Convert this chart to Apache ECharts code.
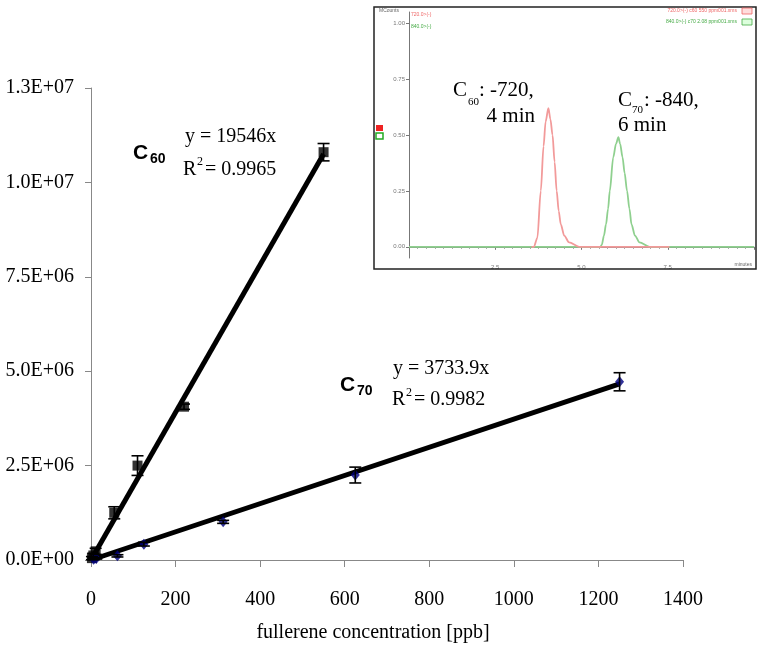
<!DOCTYPE html>
<html>
<head>
<meta charset="utf-8">
<script src="https://cdn.jsdelivr.net/npm/echarts@6/dist/echarts.min.js"></script>
<style>html,body{margin:0;padding:0;background:#fff}#c{width:762px;height:650px}</style>
</head>
<body>
<div id="c"></div>
<script>
// ---- main calibration data ----
var c60Conc = [2.2, 5.5, 11, 55, 110, 220, 550];
var c60Area = [50000, 120000, 230000, 1250000, 2500000, 4060000, 10800000];
var c60Err  = [40000, 60000, 80000, 160000, 260000, 70000, 230000];

var c70Conc = [6.25, 12.5, 62.5, 125, 312.5, 625, 1250];
var c70Area = [20000, 40000, 110000, 420000, 1010000, 2250000, 4720000];
var c70Err  = [10000, 15000, 30000, 50000, 40000, 210000, 240000];

var c60Slope = 19546;   // y = 19546x
var c70Slope = 3733.9;  // y = 3733.9x
var c60FitX = [0, 550];
var c70FitX = [0, 1250];

var yTicks = [0, 2500000, 5000000, 7500000, 10000000, 12500000];
var xTicks = [0, 200, 400, 600, 800, 1000, 1200, 1400];

// ---- inset chromatogram (time [min], MCounts) ----
var c60Trace = [[3.55,0],[3.62,0],[3.72,0.04],[3.82,0.25],[3.9,0.45],[3.96,0.56],[4.04,0.62],[4.1,0.57],[4.16,0.5],[4.22,0.38],[4.28,0.25],[4.34,0.16],[4.40,0.1],[4.5,0.05],[4.64,0.02],[4.93,0],[7.55,0]];
var c70Trace = [[0,0],[5.55,0],[5.59,0.01],[5.65,0.05],[5.71,0.1],[5.77,0.17],[5.82,0.25],[5.92,0.4],[6.0,0.46],[6.07,0.49],[6.12,0.46],[6.19,0.4],[6.25,0.33],[6.32,0.25],[6.39,0.17],[6.45,0.1],[6.55,0.05],[6.68,0.02],[6.97,0],[10,0]];
var insetYTicks = [0, 0.25, 0.5, 0.75, 1.0];
var insetXTicks = [2.5, 5.0, 7.5];

function sci(v){
  if (v === 0) return '0.0E+00';
  var e = Math.floor(Math.log10(Math.abs(v)));
  var m = v / Math.pow(10, e);
  var s = m.toFixed(1);
  if (s === '10.0') { e++; s = '1.0'; }
  var ae = Math.abs(e);
  return s + 'E' + (e < 0 ? '-' : '+') + (ae < 10 ? '0' : '') + ae;
}
function pts(xs, ys){ return xs.map(function(x,i){ return [x, ys[i]]; }); }
function errs(xs, ys, es){ return xs.map(function(x,i){ return [x, ys[i]-es[i], ys[i]+es[i]]; }); }
function fit(xs, k){ return xs.map(function(x){ return [x, k*x]; }); }

function errRender(params, api){
  var x = api.value(0), lo = api.value(1), hi = api.value(2);
  var p1 = api.coord([x, lo]), p2 = api.coord([x, hi]);
  var w = 6;
  var st = {stroke:'#000', lineWidth:1.6};
  return {type:'group', children:[
    {type:'line', shape:{x1:p1[0],y1:p1[1],x2:p2[0],y2:p2[1]}, style:st},
    {type:'line', shape:{x1:p1[0]-w,y1:p1[1],x2:p1[0]+w,y2:p1[1]}, style:st},
    {type:'line', shape:{x1:p2[0]-w,y1:p2[1],x2:p2[0]+w,y2:p2[1]}, style:st}
  ]};
}

var SERIF = '"Liberation Serif","Times New Roman",serif';
var SANS = '"Liberation Sans",Arial,sans-serif';

function txt(x, y, s, size, opt){
  opt = opt || {};
  return {type:'text', x:x, y:y, z:opt.z||50, style:{text:s, fill:opt.color||'#000', font:(opt.bold?'bold ':'')+size+'px '+(opt.family||SERIF), textVerticalAlign:'middle', textAlign:opt.align||'left'}};
}

var chart = echarts.init(document.getElementById('c'), null, {renderer:'canvas'});

var graphics = [
  // inset frame
  {type:'rect', shape:{x:374, y:7, width:382, height:262}, style:{fill:'none', stroke:'#222', lineWidth:1.5}, z:40},
  // x axis title
  txt(373, 633, 'fullerene concentration [ppb]', 20, {align:'center'}),
  // C60 annotation (main)
  txt(133, 153, 'C', 21, {bold:true, family:SANS}),
  txt(150, 159, '60', 14, {bold:true, family:SANS}),
  txt(185, 137, 'y = 19546x', 20),
  txt(183, 170, 'R', 20),
  txt(197, 162, '2', 12),
  txt(205, 170, '= 0.9965', 20),
  // C70 annotation (main)
  txt(340, 385, 'C', 21, {bold:true, family:SANS}),
  txt(357, 391, '70', 14, {bold:true, family:SANS}),
  txt(393, 369, 'y = 3733.9x', 20),
  txt(392, 400, 'R', 20),
  txt(406, 393, '2', 12),
  txt(414, 400, '= 0.9982', 20),
  // inset annotations
  txt(453, 90, 'C', 21),
  txt(468, 102, '60', 11),
  txt(479, 90, ': -720,', 21),
  txt(535, 116, '4 min', 21, {align:'right'}),
  txt(618, 100, 'C', 21),
  txt(632, 110, '70', 11),
  txt(644, 100, ': -840,', 21),
  txt(618, 125, '6 min', 21),
  // inset small texts
  txt(379, 11, 'MCounts', 5, {color:'#666', family:SANS}),
  txt(411, 15, '720.0>(-)', 5, {color:'#e66', family:SANS}),
  txt(411, 27, '840.0>(-)', 5, {color:'#4a4', family:SANS}),
  txt(737, 11, '720.0>(-) c60 550 ppm001.xms', 5, {color:'#e66', family:SANS, align:'right'}),
  txt(737, 22, '840.0>(-) c70 2.08 ppm001.xms', 5, {color:'#4a4', family:SANS, align:'right'}),
  txt(752, 265, 'minutes', 5, {color:'#666', family:SANS, align:'right'}),
  {type:'rect', shape:{x:742, y:8, width:10, height:6}, style:{fill:'#fdd', stroke:'#e66', lineWidth:0.8}, z:50},
  {type:'rect', shape:{x:742, y:19, width:10, height:6}, style:{fill:'#dfd', stroke:'#4a4', lineWidth:0.8}, z:50},
  {type:'rect', shape:{x:376, y:125, width:7, height:6}, style:{fill:'#e22'}, z:50},
  {type:'rect', shape:{x:376, y:133, width:7, height:6}, style:{fill:'#fff', stroke:'#2a2', lineWidth:1.5}, z:50}
];

var option = {
  animation:false,
  backgroundColor:'#fff',
  grid:[
    {left:91, right:79, top:88, bottom:90, containLabel:false},
    {left:409, right:8, top:12, bottom:392, containLabel:false}
  ],
  xAxis:[
    {gridIndex:0, type:'value', min:xTicks[0], max:xTicks[xTicks.length-1], interval:200,
      splitLine:{show:false},
      axisLine:{lineStyle:{color:'#888', width:1}},
      axisTick:{show:true, inside:false, length:7, lineStyle:{color:'#888'}},
      axisLabel:{color:'#000', fontSize:20, fontFamily:SERIF, margin:30, formatter:function(v){ return String(v); }}
    },
    {gridIndex:1, type:'value', min:0, max:10, interval:2.5,
      splitLine:{show:false},
      axisLine:{lineStyle:{color:'#777', width:1}},
      axisTick:{show:true, length:3, lineStyle:{color:'#777'}},
      minorTick:{show:true, splitNumber:10, length:2, lineStyle:{color:'#999'}},
      axisLabel:{color:'#777', fontSize:6, fontFamily:SANS, margin:6,
        formatter:function(v){ return insetXTicks.indexOf(v) >= 0 ? v.toFixed(1) : ''; }}
    }
  ],
  yAxis:[
    {gridIndex:0, type:'value', min:yTicks[0], max:yTicks[yTicks.length-1], interval:2500000,
      splitLine:{show:false},
      axisLine:{show:true, lineStyle:{color:'#888', width:1}},
      axisTick:{show:true, inside:false, length:6, lineStyle:{color:'#888'}},
      axisLabel:{color:'#000', fontSize:20, fontFamily:SERIF, margin:17, formatter:sci}
    },
    {gridIndex:1, type:'value', min:-0.05, max:1.05,
      splitLine:{show:false},
      axisLine:{show:true, lineStyle:{color:'#777', width:1}},
      axisTick:{show:true, length:3, customValues:insetYTicks, lineStyle:{color:'#777'}},
      minorTick:{show:false},
      axisLabel:{color:'#777', fontSize:6, fontFamily:SANS, margin:4, customValues:insetYTicks,
        formatter:function(v){ return v.toFixed(2); }}
    }
  ],
  series:[
    {type:'line', xAxisIndex:0, yAxisIndex:0, data:fit(c60FitX, c60Slope), showSymbol:false, symbol:'none',
      lineStyle:{color:'#000', width:5}, z:2},
    {type:'line', xAxisIndex:0, yAxisIndex:0, data:fit(c70FitX, c70Slope), showSymbol:false, symbol:'none',
      lineStyle:{color:'#000', width:5}, z:2},
    {type:'scatter', xAxisIndex:0, yAxisIndex:0, data:pts(c60Conc, c60Area), symbol:'rect', symbolSize:10,
      itemStyle:{color:'#000'}, z:3},
    {type:'scatter', xAxisIndex:0, yAxisIndex:0, data:pts(c70Conc, c70Area), symbol:'diamond', symbolSize:[9,11],
      itemStyle:{color:'#000080'}, z:3},
    {type:'custom', xAxisIndex:0, yAxisIndex:0, data:errs(c60Conc, c60Area, c60Err), renderItem:errRender, z:4},
    {type:'custom', xAxisIndex:0, yAxisIndex:0, data:errs(c70Conc, c70Area, c70Err), renderItem:errRender, z:4},
    {type:'line', xAxisIndex:1, yAxisIndex:1, data:c70Trace, showSymbol:false, symbol:'none', smooth:0.3, smoothMonotone:'x',
      lineStyle:{color:'#8fd08f', width:1.8}, z:5},
    {type:'line', xAxisIndex:1, yAxisIndex:1, data:c60Trace, showSymbol:false, symbol:'none', smooth:0.3, smoothMonotone:'x',
      lineStyle:{color:'#f29a9a', width:1.8}, z:6}
  ],
  graphic:graphics
};
chart.setOption(option);
</script>
</body>
</html>
